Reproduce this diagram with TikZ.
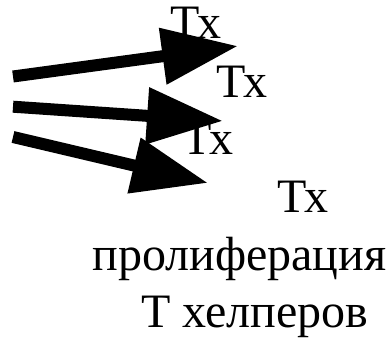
\documentclass[tikz,border=0pt]{standalone}
\usepackage{fontspec}
\setmainfont{Liberation Serif}
\usetikzlibrary{arrows.meta}

\begin{document}
\begin{tikzpicture}[
  x=0.75pt, y=-0.75pt,
  lbl/.style={anchor=base, inner sep=0pt, font=\fontsize{36}{43}\selectfont},
  arr/.style={-{Triangle[length=57pt, width=40.5pt]}, line width=9pt, black},
]
\useasboundingbox (0,0) rectangle (389,338);

\node[lbl] (th1) at (195.5,39) {Тх};
\node[lbl] (th2) at (241.5,98) {Тх};
\node[lbl] (th3) at (208,155) {Тх};
\node[lbl] (th4) at (303,213) {Тх};
\node[lbl] (prolif) at (239.5,271) {пролиферация};
\node[lbl] (helper) at (255,327) {Т хелперов};

\coordinate (s1) at (13,76.5);
\coordinate (s2) at (13,106.7);
\coordinate (s3) at (13,137);
\coordinate (e1) at (238,46);
\coordinate (e2) at (223,121);
\coordinate (e3) at (208,183);

\draw[arr] (s1) -- (e1);
\draw[arr] (s2) -- (e2);
\draw[arr] (s3) -- (e3);

\end{tikzpicture}
\end{document}
